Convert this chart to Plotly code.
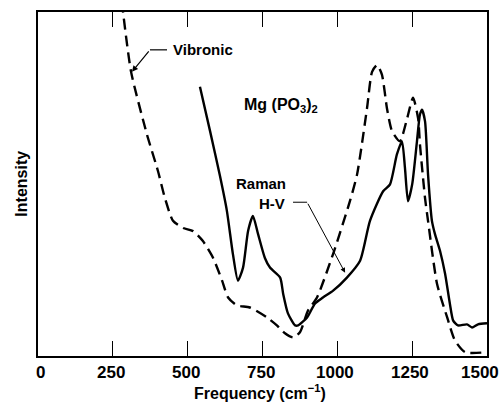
import plotly.graph_objects as go

# Vibronic (dashed) spectrum
vib_freq = [280, 311, 364, 401, 424, 451, 485, 518, 551, 585, 615, 635, 665, 708, 765, 798, 825, 852,
            875, 902, 932, 986, 1042, 1066, 1099, 1116, 1133, 1149, 1166, 1183, 1209, 1233, 1253, 1270,
            1276, 1293, 1303, 1333, 1367, 1393, 1427, 1500]
vib_int = [103, 82.6, 64.4, 53.7, 45.9, 39.3, 37.2, 36.3, 33.4, 28.5, 21.9, 17.0, 14.7, 14.1, 11.2, 8.9, 6.6, 5.4,
           6.9, 13.2, 17.0, 29.7, 45.0, 52.8, 71.9, 82.6, 84.6, 81.8, 71.9, 65.3, 62.4, 69.0, 75.1, 69.0,
           61.5, 45.9, 39.3, 21.0, 11.2, 4.5, 1.1, 1.1]

# Raman H-V (solid) spectrum
ram_freq = [541, 575, 608, 631, 651, 668, 685, 702, 718, 735, 758, 775, 809, 819, 835, 859, 869, 899, 925,
            952, 986, 1032, 1076, 1109, 1153, 1176, 1199, 1216, 1226, 1236, 1250, 1266, 1276, 1283, 1293,
            1303, 1316, 1326, 1343, 1360, 1376, 1387, 1403, 1433, 1450, 1470, 1500]
ram_int = [78.3, 65.3, 52.3, 42.2, 29.7, 21.9, 25.7, 36.4, 40.7, 35.5, 28.5, 25.7, 22.8, 18.1, 12.4, 8.9, 8.9, 11.2, 15.2,
           17.0, 19.0, 22.8, 27.7, 39.3, 47.9, 49.9, 58.6, 62.4, 54.6, 45.0, 49.9, 62.4, 70.2, 71.6, 68.2,
           52.8, 39.3, 35.5, 30.6, 23.9, 15.2, 10.3, 8.9, 9.2, 8.3, 9.2, 9.5]

x_ticks = [0, 250, 500, 750, 1000, 1250, 1500]
x_tick_labels = ["0", "250", "500", "750", "1000", "1250", "1500"]

FONT = "Liberation Sans, Arial, Helvetica, sans-serif"

fig = go.Figure()
fig.add_trace(go.Scatter(x=vib_freq, y=vib_int, mode="lines",
                         line=dict(color="black", width=2.4, dash="11px,6px", shape="spline", smoothing=0.6),
                         showlegend=False, hoverinfo="skip"))
fig.add_trace(go.Scatter(x=ram_freq, y=ram_int, mode="lines",
                         line=dict(color="black", width=2.4, shape="spline", smoothing=0.6),
                         showlegend=False, hoverinfo="skip"))

# leader lines
fig.add_shape(type="line", x0=431, y0=89.0, x1=374, y1=89.0, line=dict(color="black", width=1.2))
fig.add_shape(type="line", x0=852, y0=44.7, x1=899, y1=44.7, line=dict(color="black", width=1))

lab = dict(family=FONT, size=15, color="black", weight="bold")
fig.add_annotation(x=314, y=82.6, ax=374, ay=89.0, axref="x", ayref="y", text="", showarrow=True,
                   arrowhead=2, arrowsize=1, arrowwidth=1.2, arrowcolor="black")
fig.add_annotation(x=1026, y=24.2, ax=899, ay=44.7, axref="x", ayref="y", text="", showarrow=True,
                   arrowhead=2, arrowsize=1, arrowwidth=1, arrowcolor="black")
fig.add_annotation(x=551, y=89.0, text="Vibronic", showarrow=False, font=lab)
fig.add_annotation(x=813, y=72.9, text="Mg (PO<sub>3</sub>)<sub>2</sub>", showarrow=False,
                   font=dict(family=FONT, size=16, color="black", weight="bold"))
fig.add_annotation(x=745, y=50.2, text="Raman", showarrow=False, font=lab)
fig.add_annotation(x=783, y=44.4, text="H-V", showarrow=False, font=lab)

# tick labels (drawn at the axis tick positions)
tickfont = dict(family=FONT, size=17, color="black", weight="bold")
for v, t in zip(x_ticks, x_tick_labels):
    shift = -7 if v == x_ticks[-1] else (2 if v == x_ticks[0] else -2)
    fig.add_annotation(x=v, xref="x", y=0, yref="paper", yanchor="top", yshift=-5, xshift=shift,
                       text=t, showarrow=False, font=tickfont)

fig.add_annotation(xref="paper", yref="paper", x=0.495, y=-0.104, yanchor="middle",
                   text="Frequency (cm<sup>−1</sup>)", showarrow=False,
                   font=dict(family=FONT, size=16, color="black", weight="bold"))
fig.add_annotation(xref="paper", yref="paper", x=-0.062, y=0.5, textangle=-90,
                   text="Intensity", showarrow=False,
                   font=dict(family=FONT, size=16, color="black", weight="bold"))

fig.update_xaxes(range=[0, 1500], tickvals=x_ticks, showticklabels=False, ticks="inside", ticklen=15,
                 tickwidth=1.2, tickcolor="black", showline=True, linecolor="black", linewidth=1.5,
                 mirror="ticks", showgrid=False, zeroline=False)
fig.update_yaxes(range=[0, 100], showticklabels=False, ticks="", showline=True, linecolor="black",
                 linewidth=1.5, mirror=True, showgrid=False, zeroline=False)

fig.update_layout(width=499, height=402, margin=dict(l=38, r=12, t=10, b=46),
                  paper_bgcolor="white", plot_bgcolor="white")

fig.write_html("out.html")
